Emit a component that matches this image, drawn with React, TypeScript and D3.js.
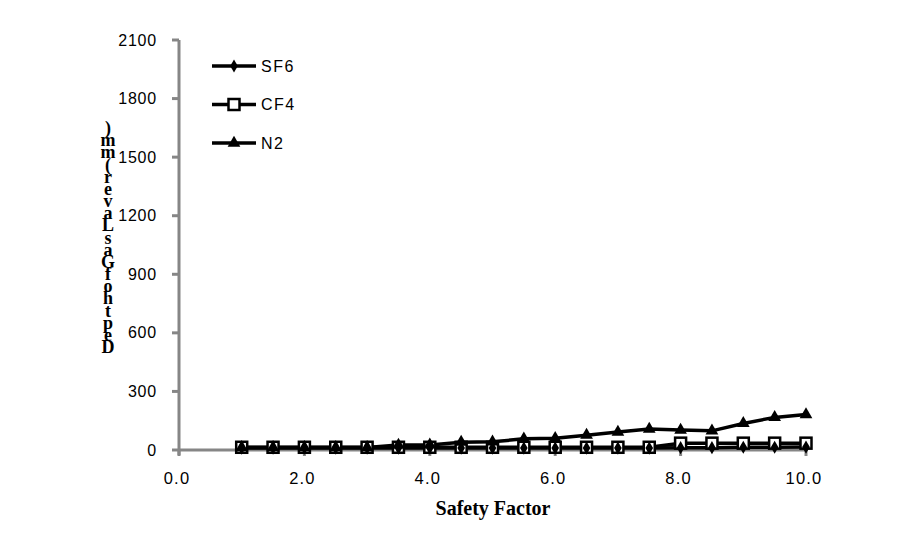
import React from "react";
import * as d3 from "d3";

const xValues = [1.0, 1.5, 2.0, 2.5, 3.0, 3.5, 4.0, 4.5, 5.0, 5.5, 6.0, 6.5, 7.0, 7.5, 8.0, 8.5, 9.0, 9.5, 10.0];
const sf6 = [10, 10, 10, 10, 10, 10, 10, 10, 10, 10, 10, 10, 10, 10, 12, 12, 14, 14, 15];
const cf4 = [14, 14, 14, 14, 14, 14, 14, 14, 14, 14, 14, 14, 14, 14, 35, 35, 35, 35, 35];
const n2 = [13, 13, 13, 13, 13, 25, 26, 40, 42, 57, 60, 76, 92, 107, 102, 98, 136, 167, 182];
const yTicks = [0, 300, 600, 900, 1200, 1500, 1800, 2100];
const xTicks = [0, 2, 4, 6, 8, 10];
const seriesNames = ["SF6", "CF4", "N2"];
const yTitle = "Depth of Gas Laver (mm)";
const xTitle = "Safety Factor";

const W = 913;
const H = 549;
const SANS = "'Liberation Sans', Arial, sans-serif";
const SERIF = "'Liberation Serif', 'Times New Roman', serif";

export default function App() {
  const x = d3.scaleLinear().domain([0, 10]).range([179, 806]);
  const y = d3.scaleLinear().domain([0, 2100]).range([450, 40]);
  const line = d3
    .line<[number, number]>()
    .x((d) => x(d[0]))
    .y((d) => y(d[1]));

  const pts = (vals: number[]) => xValues.map((v, i) => [v, vals[i]] as [number, number]);
  const sym = (type: any, size: number) => d3.symbol().type(type).size(size)() as string;
  const diamond = sym(d3.symbolDiamond, 50);
  const triangle = sym(d3.symbolTriangle, 70);

  const markerSF6 = (cx: number, cy: number, k: string) => (
    <path key={k} d={diamond} transform={`translate(${cx},${cy})`} fill="#000" />
  );
  const markerCF4 = (cx: number, cy: number, k: string) => (
    <rect key={k} x={cx - 5.5} y={cy - 5.5} width={11} height={11} fill="#fff" stroke="#000" strokeWidth={2.5} />
  );
  const markerN2 = (cx: number, cy: number, k: string) => (
    <path key={k} d={triangle} transform={`translate(${cx},${cy})`} fill="#000" />
  );

  const series = [
    { name: seriesNames[1], data: pts(cf4), marker: markerCF4 },
    { name: seriesNames[0], data: pts(sf6), marker: markerSF6 },
    { name: seriesNames[2], data: pts(n2), marker: markerN2 },
  ];
  const legendMarkers = [markerSF6, markerCF4, markerN2];

  const chars = yTitle.split("").reverse().filter((c) => c !== " ");
  const step = (347 - 128) / (chars.length - 1);

  return (
    <svg width={W} height={H} style={{ position: "absolute", left: 0, top: 0, background: "#fff" }}>
      <rect width={W} height={H} fill="#fff" />
      {/* axes */}
      <line x1={x(0)} x2={x(0)} y1={y(2100)} y2={y(0) + 5} stroke="#868686" strokeWidth={3} />
      <line x1={x(0)} x2={x(10)} y1={y(0)} y2={y(0)} stroke="#868686" strokeWidth={3} />
      {yTicks.map((t) => (
        <g key={"yt" + t}>
          <line x1={x(0) - 7} x2={x(0)} y1={y(t)} y2={y(t)} stroke="#868686" strokeWidth={3} />
          <text
            x={157}
            y={y(t)}
            textAnchor="end"
            dominantBaseline="central"
            fontFamily={SANS}
            fontSize={16}
            letterSpacing={0.8}
            fill="#000"
          >
            {t}
          </text>
        </g>
      ))}
      {xTicks.map((t) => (
        <g key={"xt" + t}>
          <line x1={x(t)} x2={x(t)} y1={y(0)} y2={y(0) + 6} stroke="#868686" strokeWidth={3} />
          <text
            x={x(t) - 2}
            y={484}
            textAnchor="middle"
            fontFamily={SANS}
            fontSize={16.5}
            letterSpacing={1.2}
            fill="#000"
          >
            {t.toFixed(1)}
          </text>
        </g>
      ))}
      {/* series */}
      {series.map((s) => (
        <path key={"l" + s.name} d={line(s.data) || ""} fill="none" stroke="#000" strokeWidth={3.5} />
      ))}
      {series.map((s) => (
        <g key={"m" + s.name}>{s.data.map((d, i) => s.marker(x(d[0]), y(d[1]), s.name + i))}</g>
      ))}
      {/* legend */}
      {seriesNames.map((n, i) => {
        const ly = 66 + i * 38.5;
        return (
          <g key={"lg" + n}>
            <line x1={212} x2={256} y1={ly} y2={ly} stroke="#000" strokeWidth={3.5} />
            {legendMarkers[i](234, ly, "lgm" + n)}
            <text
              x={261}
              y={ly}
              dominantBaseline="central"
              fontFamily={SANS}
              fontSize={16}
              letterSpacing={1.5}
              fill="#000"
            >
              {n}
            </text>
          </g>
        );
      })}
      {/* y title stacked */}
      {chars.map((c, i) => (
        <text
          key={"yc" + i}
          x={108}
          y={128 + i * step}
          textAnchor="middle"
          dominantBaseline="central"
          fontFamily={SERIF}
          fontWeight="bold"
          fontSize={18}
          fill="#000"
        >
          {c}
        </text>
      ))}
      <text
        x={493}
        y={515}
        textAnchor="middle"
        fontFamily={SERIF}
        fontWeight="bold"
        fontSize={20}
        fill="#000"
      >
        {xTitle}
      </text>
    </svg>
  );
}
